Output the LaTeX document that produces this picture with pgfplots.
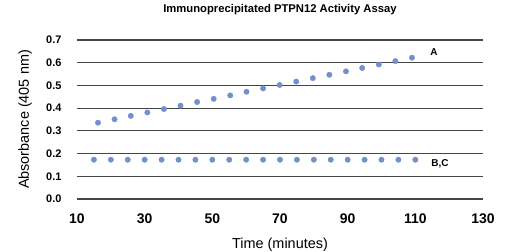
\documentclass[border=0pt]{standalone}
\usepackage{pgfplots}
\pgfplotsset{compat=1.18}
\usepackage{fontspec}
\setmainfont{Liberation Sans}
\definecolor{dotblue}{RGB}{112,145,205}
\definecolor{gridc}{RGB}{70,70,70}
\begin{document}
\begin{tikzpicture}
\useasboundingbox (-77bp,-53bp) rectangle (432bp,199bp);
\begin{axis}[
  scale only axis,
  width=406bp, height=159bp,
  xmin=10, xmax=130, ymin=0, ymax=0.7,
  axis line style={draw=none},
  xtick={10,30,50,70,90,110,130},
  ytick={0,0.1,0.2,0.3,0.4,0.5,0.6,0.7},
  major tick length=0pt,
  ymajorgrids,
  grid style={gridc, line width=1.1bp},
  /pgf/number format/assume math mode=true,
  yticklabel={\pgfmathprintnumber[fixed,fixed zerofill,precision=1]{\tick}},
  xticklabel style={font=\fontsize{14}{16}\selectfont\bfseries, anchor=center, yshift=-20bp},
  yticklabel style={font=\fontsize{11}{13}\selectfont\bfseries, anchor=east, xshift=-12bp},
  title={Immunoprecipitated PTPN12 Activity Assay},
  title style={font=\fontsize{11.3}{13}\selectfont\bfseries, at={(axis description cs:0.5,1)}, anchor=center, yshift=24bp},
  xlabel={Time (minutes)},
  xlabel style={font=\fontsize{14.5}{16}\selectfont, at={(axis description cs:0.5,-0.285)}, anchor=center},
  ylabel={Absorbance (405 nm)},
  ylabel style={font=\fontsize{14.5}{16}\selectfont, at={(axis description cs:-0.128,0.5)}, anchor=center},
  clip=false,
]
\addplot[only marks, mark=*, mark size=2.7bp, color=dotblue, mark options={draw=none, fill=dotblue}] coordinates {
(16.2,0.336) (21.1,0.351) (25.9,0.366) (30.8,0.381) (35.7,0.396)
(40.6,0.411) (45.5,0.427) (50.4,0.441) (55.3,0.456) (60.1,0.472)
(65.0,0.487) (69.9,0.502) (74.8,0.517) (79.7,0.532) (84.6,0.547)
(89.5,0.562) (94.3,0.577) (99.2,0.592) (104.1,0.607) (109.0,0.622)
};
\addplot[only marks, mark=*, mark size=2.7bp, color=dotblue, mark options={draw=none, fill=dotblue}] coordinates {
(15,0.173) (20,0.173) (25,0.173) (30,0.173) (35,0.173)
(40,0.173) (45,0.173) (50,0.173) (55,0.173) (60,0.173)
(65,0.173) (70,0.173) (75,0.173) (80,0.173) (85,0.173)
(90,0.173) (95,0.173) (100,0.173) (105,0.173) (110,0.173)
};
\node[font=\fontsize{10}{12}\selectfont\bfseries] at (axis cs:115.5,0.647) {A};
\node[font=\fontsize{10}{12}\selectfont\bfseries] at (axis cs:117.3,0.154) {B,C};
\end{axis}
\end{tikzpicture}
\end{document}
